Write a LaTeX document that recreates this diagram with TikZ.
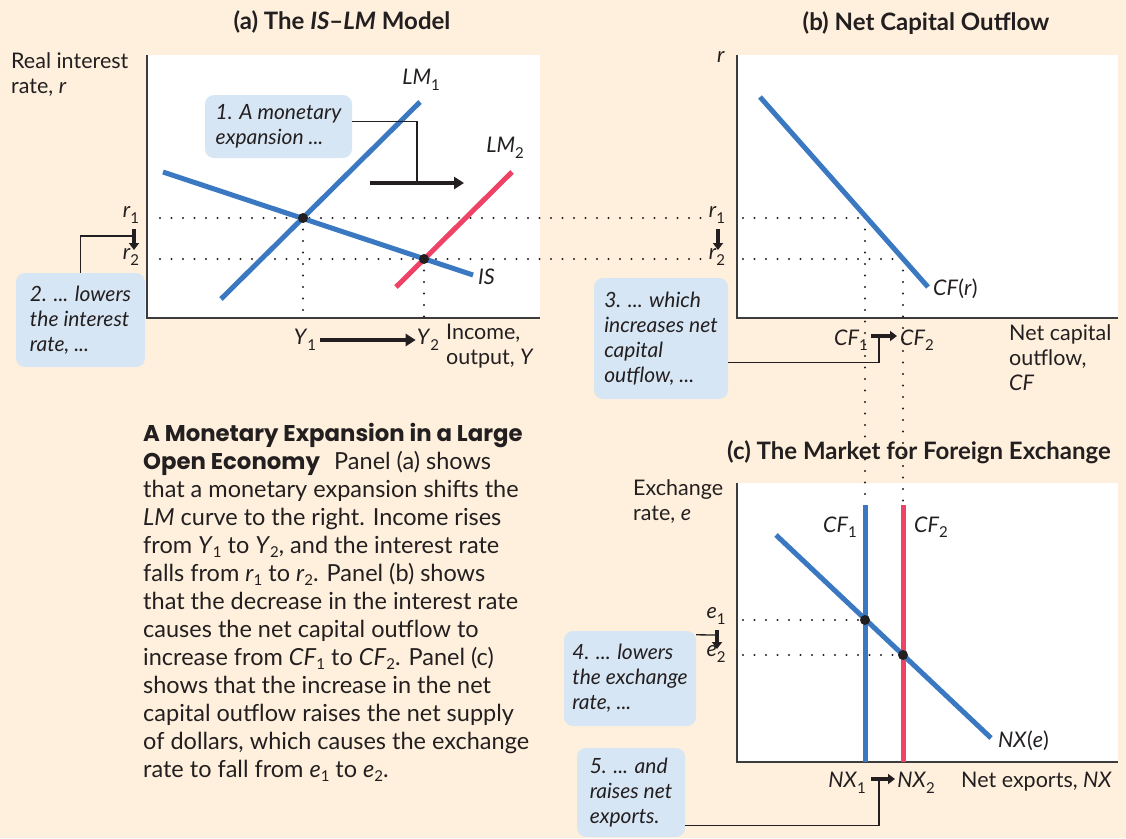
\documentclass[tikz,border=0pt]{standalone}
\usepackage{fontspec}
\setmainfont{Lato}
\newfontfamily\headfont{Poppins}
\usepackage{tikz}
\usetikzlibrary{arrows.meta, positioning, calc}
\definecolor{pagecream}{HTML}{FEF0DC}
\definecolor{curveblue}{HTML}{3A79C1}
\definecolor{curvered}{HTML}{EE4266}
\definecolor{calloutblue}{HTML}{D7E6F4}
\definecolor{axisgray}{HTML}{3C3C3C}
\definecolor{textdark}{HTML}{231F20}
\newcommand{\subnum}[1]{\raisebox{-0.5ex}{\fontsize{15}{15}\selectfont\upshape #1}}
\newcommand{\capsub}[1]{\raisebox{-0.3ex}{\fontsize{15}{15}\selectfont\upshape #1}}
\tikzstyle{callout} = [rectangle, rounded corners=9pt, fill=calloutblue, align=left, inner sep=0pt, font=\fontsize{21}{25}\selectfont\itshape, text=textdark]
\tikzstyle{lbl} = [inner sep=0pt, align=left, font=\fontsize{21.5}{25}\selectfont, text=textdark]
\tikzstyle{ttl} = [inner sep=0pt, font=\fontsize{24}{26}\selectfont\bfseries, text=textdark]
\tikzstyle{demandline} = [line width=5pt, color=curveblue]
\tikzstyle{axisline} = [line width=1.4pt, color=axisgray]
\tikzstyle{dotline} = [line width=2.3pt, line cap=round, dash pattern=on 0pt off 11.5pt, color=textdark]
\tikzstyle{leader} = [line width=1.3pt, color=textdark]
\tikzstyle{shiftarrow} = [line width=4pt, color=textdark, -{Triangle[length=10pt,width=12pt]}]
\tikzstyle{nudge} = [line width=3.5pt, color=textdark, -{Triangle[length=7pt,width=10pt]}]
\tikzstyle{eqdot} = [circle, fill=textdark, inner sep=0pt, minimum size=10pt]

\begin{document}
\begin{tikzpicture}[x=1pt,y=-1pt]
    \fill[pagecream] (0,0) rectangle (1126,838);
    \useasboundingbox (0,0) rectangle (1126,838);

    % plot areas
    \fill[white] (147,55) rectangle (540,318);
    \fill[white] (737,55) rectangle (1118,318);
    \fill[white] (737,483) rectangle (1118,762);
    \draw[axisline] (147,55) |- (540,318);
    \draw[axisline] (737,55) |- (1118,318);
    \draw[axisline] (737,483) |- (1118,762);

    \node[ttl] (titleA) at (342,22) {(a) The \textit{IS}--\textit{LM} Model};
    \node[ttl] (titleB) at (926,23) {(b) Net Capital Outflow};
    \node[ttl] (titleC) at (919,452) {(c) The Market for Foreign Exchange};

    % guide lines
    \draw[dotline] (160,218) -- (704,218);
    \draw[dotline] (743,218) -- (865,218);
    \draw[dotline] (160,259) -- (704,259);
    \draw[dotline] (743,259) -- (903,259);
    \draw[dotline] (303,218) -- (303,318);
    \draw[dotline] (424,259) -- (424,318);
    \draw[dotline] (865,218) -- (865,505);
    \draw[dotline] (903,259) -- (903,505);
    \draw[dotline] (743,620) -- (865,620);
    \draw[dotline] (743,655) -- (903,655);

    % curves
    \draw[demandline] (221,299) -- (420,102);
    \draw[demandline, curvered] (396,287) -- (512,172);
    \draw[demandline] (163,172) -- (473,275);
    \draw[demandline] (760,97) -- (928,287);
    \draw[demandline] (865,505) -- (865,762);
    \draw[demandline, curvered] (903,505) -- (903,762);
    \draw[demandline] (776,535) -- (991,738);

    \node[eqdot] (eqA1) at (303,218) {};
    \node[eqdot] (eqA2) at (424,259) {};
    \node[eqdot] (eqC1) at (865,620) {};
    \node[eqdot] (eqC2) at (903,655) {};

    % panel (a) labels
    \node[lbl, anchor=north west] (ylabA) at (11,52) {Real interest\\rate, \textit{r}};
    \node[lbl] (lmOne) at (421,80) {\textit{LM}\subnum{1}};
    \node[lbl] (lmTwo) at (505,148) {\textit{LM}\subnum{2}};
    \node[lbl, anchor=west] (isLbl) at (478,277) {\textit{IS}};
    \node[lbl] (rOneA) at (131,215) {\textit{r}\subnum{1}};
    \node[lbl] (rTwoA) at (131,257) {\textit{r}\subnum{2}};
    \node[lbl] (yOne) at (305,340) {\textit{Y}\subnum{1}};
    \node[lbl] (yTwo) at (428,340) {\textit{Y}\subnum{2}};
    \node[lbl, anchor=north west] (xlabA) at (446,324) {Income,\\output, \textit{Y}};

    % panel (b) labels
    \node[lbl] (ylabB) at (721,57) {\textit{r}};
    \node[lbl] (rOneB) at (717,215) {\textit{r}\subnum{1}};
    \node[lbl] (rTwoB) at (717,257) {\textit{r}\subnum{2}};
    \node[lbl, anchor=west] (cfLbl) at (933,289) {\textit{CF}(\textit{r})};
    \node[lbl] (cfOne) at (851,340) {\textit{CF}\subnum{1}};
    \node[lbl] (cfTwo) at (917,340) {\textit{CF}\subnum{2}};
    \node[lbl, anchor=north west] (xlabB) at (1009,324) {Net capital\\outflow,\\\textit{CF}};

    % panel (c) labels
    \node[lbl, anchor=north west] (ylabC) at (633,479) {Exchange\\rate, \textit{e}};
    \node[lbl] (cfOneC) at (840,527) {\textit{CF}\subnum{1}};
    \node[lbl] (cfTwoC) at (931,527) {\textit{CF}\subnum{2}};
    \node[lbl] (eOne) at (716,616) {\textit{e}\subnum{1}};
    \node[lbl] (eTwo) at (716,654) {\textit{e}\subnum{2}};
    \node[lbl, anchor=west] (nxLbl) at (998,741) {\textit{NX}(\textit{e})};
    \node[lbl] (nxOne) at (847,783) {\textit{NX}\subnum{1}};
    \node[lbl] (nxTwo) at (916,783) {\textit{NX}\subnum{2}};
    \node[lbl, anchor=west] (xlabC) at (961,782) {Net exports, \textit{NX}};

    % callouts
    \node[callout, minimum width=147pt, minimum height=63pt] (box1) at (278.5,126.5) {1. A monetary\\expansion ...};
    \node[callout, minimum width=129pt, minimum height=94pt] (box2) at (80.5,320) {2. ... lowers\\the interest\\rate, ...};
    \node[callout, minimum width=134pt, minimum height=121pt] (box3) at (661,338.5) {3. ... which\\increases net\\capital\\outflow, ...};
    \node[callout, minimum width=132pt, minimum height=95pt] (box4) at (630,678.5) {4. ... lowers\\the exchange\\rate, ...};
    \node[callout, minimum width=108pt, minimum height=89pt] (box5) at (631,792.5) {5. ... and\\raises net\\exports.};

    % shift arrows and leaders
    \coordinate (lmFrom) at (370,183);
    \coordinate (lmTo) at (464,183);
    \coordinate (lmKnee) at (417,183);
    \draw[shiftarrow] (lmFrom) -- (lmTo);
    \draw[leader] ([yshift=5pt]box1.east) -| (lmKnee);
    \draw[shiftarrow] ([xshift=4pt]yOne.east) -- ([xshift=-1pt]yTwo.west);

    \coordinate (rKneeA) at (134,236);
    \draw[nudge] (134,229) -- (134,250);
    \draw[leader] (box2.north) |- (rKneeA);
    \draw[nudge] (718,229) -- (718,250);

    \coordinate (cfKnee) at (879,336);
    \draw[nudge] (871,336) -- (897,336);
    \draw[leader] ([yshift=-24pt]box3.east) -| (cfKnee);

    \coordinate (eKnee) at (717,635);
    \draw[nudge] (717,630) -- (717,649);
    \draw[leader] ([yshift=-4pt]box4.north east) -- (eKnee);

    \coordinate (nxKnee) at (879,779);
    \draw[nudge] (871,779) -- (895,779);
    \draw[leader] ([yshift=-33pt]box5.east) -| (nxKnee);

    % caption
    \node[anchor=north west, inner sep=0pt, align=left, text=textdark, font=\fontsize{23.5}{28}\selectfont] (caption) at (143,423)
      {{\headfont\fontsize{22.8}{28}\selectfont\bfseries A Monetary Expansion in a Large}\\
       {\headfont\fontsize{22.8}{28}\selectfont\bfseries Open Economy}\hspace{0.35em} Panel (a) shows\\
       that a monetary expansion shifts the\\
       \textit{LM} curve to the right. Income rises\\
       from \textit{Y}\capsub{1} to \textit{Y}\capsub{2}, and the interest rate\\
       falls from \textit{r}\capsub{1} to \textit{r}\capsub{2}. Panel (b) shows\\
       that the decrease in the interest rate\\
       causes the net capital outflow to\\
       increase from \textit{CF}\capsub{1} to \textit{CF}\capsub{2}. Panel (c)\\
       shows that the increase in the net\\
       capital outflow raises the net supply\\
       of dollars, which causes the exchange\\
       rate to fall from \textit{e}\capsub{1} to \textit{e}\capsub{2}.};
\end{tikzpicture}
\end{document}
